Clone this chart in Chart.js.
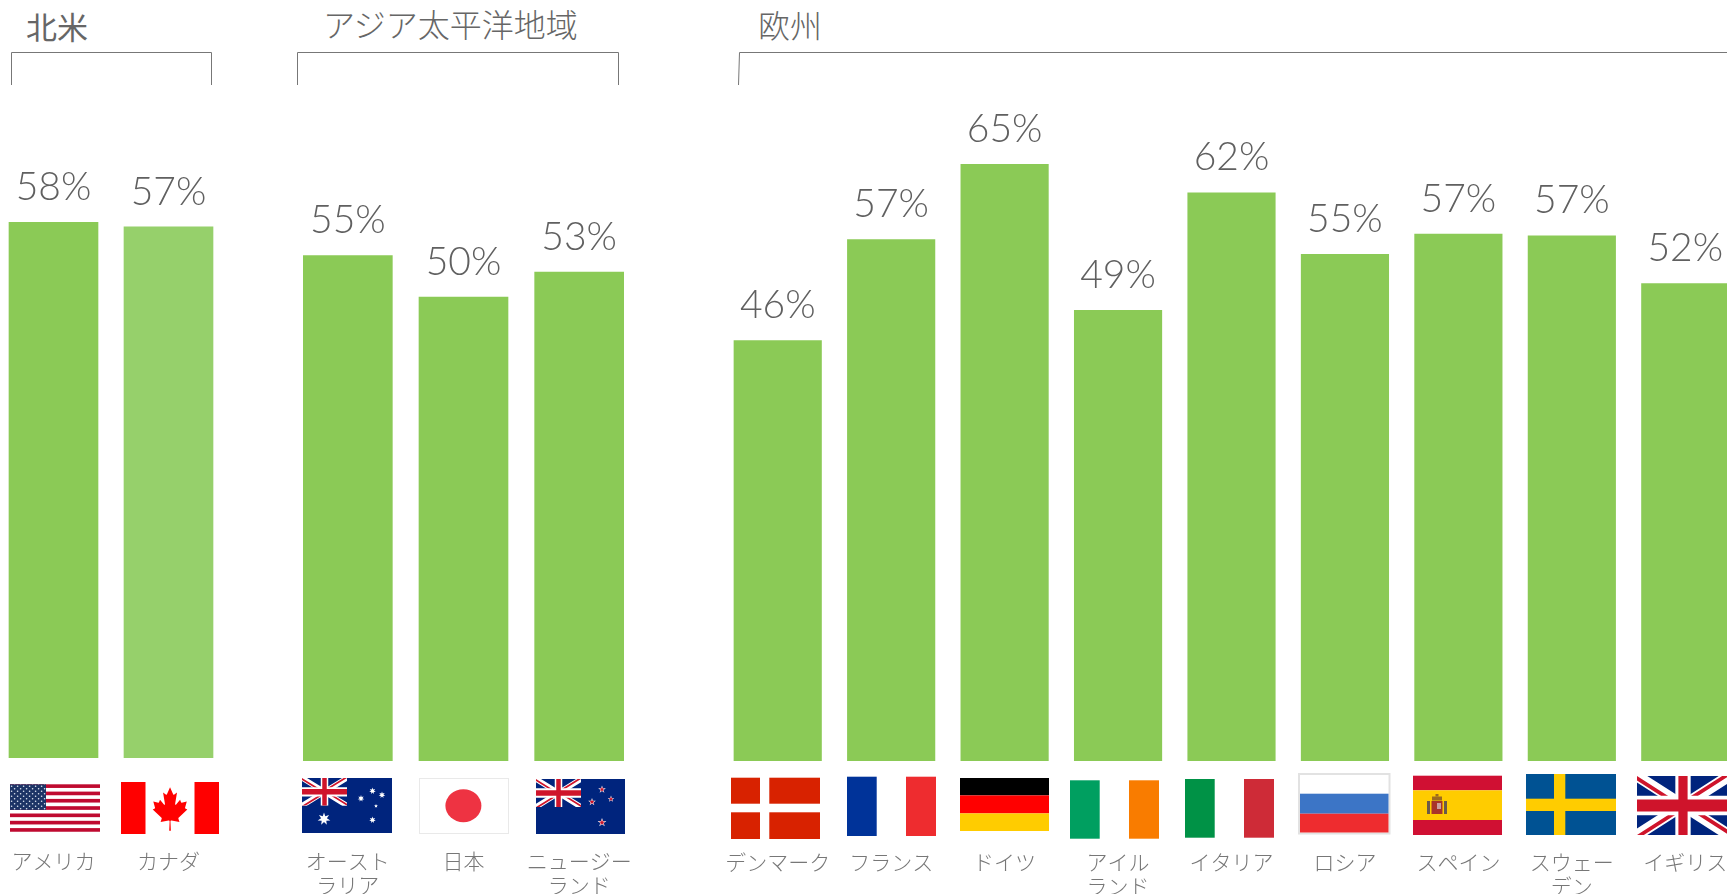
<!DOCTYPE html>
<html lang="ja">
<head>
<meta charset="utf-8">
<title>地域別</title>
<script src="https://cdn.jsdelivr.net/npm/chart.js@4"></script>
<style>
  html, body { margin: 0; padding: 0; background: #fff; overflow: hidden; }
  #page { position: relative; width: 1727px; height: 894px; overflow: hidden; }
  #page canvas { position: absolute; top: 0; }
  #overlay { position: absolute; left: 0; top: 0; }
  #overlay text { font-family: "Noto Sans CJK JP", sans-serif; font-weight: 300; font-size: 30px; fill: #666; }
</style>
</head>
<body>
<div id="page">
  <svg id="overlay" width="1727" height="894" xmlns="http://www.w3.org/2000/svg"></svg>
  <canvas id="northAmerica" style="left:-4px" width="230" height="894"></canvas>
  <canvas id="asiaPacific" style="left:290px" width="347" height="894"></canvas>
  <canvas id="europe" style="left:721px" width="1021" height="894"></canvas>
</div>

<script>
var northAmericaLabels = ['アメリカ', 'カナダ'];
var northAmericaValues = [57.6, 57.1];

var asiaLabels = [['オースト', 'ラリア'], '日本', ['ニュージー', 'ランド']];
var asiaValues = [54.8, 50.3, 53.0];

var europeLabels = ['デンマーク', 'フランス', 'ドイツ', ['アイル', 'ランド'], 'イタリア', 'ロシア', 'スペイン', ['スウェー', 'デン'], 'イギリス'];
var europeValues = [45.8, 56.8, 65.0, 49.1, 61.9, 55.2, 57.4, 57.2, 52.0];

var groupTitles = ['北米', 'アジア太平洋地域', '欧州'];

var GREEN = '#8bca56';
var LIGHT_GREEN = '#96d06b';

// percent text above each bar
var barLabels = {
  id: 'barLabels',
  afterDatasetsDraw: function(chart) {
    var ctx = chart.ctx;
    var values = chart.data.datasets[0].data;
    ctx.save();
    ctx.font = '300 39px Lato';
    ctx.fillStyle = '#606060';
    ctx.textAlign = 'center';
    ctx.textBaseline = 'middle';
    chart.getDatasetMeta(0).data.forEach(function(bar, i) {
      ctx.fillText(Math.round(values[i]) + '%', bar.x, bar.y - 35);
    });
    ctx.restore();
  }
};

function makeChart(id, labels, values, colors, opts) {
  return new Chart(document.getElementById(id), {
    type: 'bar',
    plugins: [barLabels],
    data: {
      labels: labels,
      datasets: [{ data: values, backgroundColor: colors, barThickness: opts.barWidth }]
    },
    options: {
      responsive: false,
      animation: false,
      events: [],
      plugins: { legend: { display: false }, tooltip: { enabled: false } },
      scales: {
        x: {
          grid: { display: false },
          border: { display: false },
          // labels sit under the flags, so the big tick padding must not shrink the bar area
          afterFit: function(scale) {
            scale.height = opts.axisHeight;
            scale.paddingLeft = 0;
            scale.paddingRight = 0;
          },
          ticks: {
            autoSkip: false,
            maxRotation: 0,
            padding: opts.labelGap,
            color: '#777',
            font: { family: '"Noto Sans CJK JP", sans-serif', size: 21, weight: '300', lineHeight: 1.15 }
          }
        },
        y: { display: false, min: 0, max: opts.yMax }
      }
    }
  });
}

makeChart('northAmerica', northAmericaLabels, northAmericaValues, [GREEN, LIGHT_GREEN],
  { barWidth: 89, axisHeight: 136, labelGap: 83, yMax: 81.5 });
makeChart('asiaPacific', asiaLabels, asiaValues, GREEN,
  { barWidth: 89, axisHeight: 133, labelGap: 80, yMax: 82.5 });
makeChart('europe', europeLabels, europeValues, GREEN,
  { barWidth: 87.5, axisHeight: 133, labelGap: 81, yMax: 82.9 });

// ---- brackets, group titles and flags (plain svg under the charts) ----
function rect(x, y, w, h, fill) {
  return '<rect x="' + x + '" y="' + y + '" width="' + w + '" height="' + h + '" fill="' + fill + '"/>';
}

function star(cx, cy, r, n, inner, fill) {
  var pts = [];
  for (var i = 0; i < n * 2; i++) {
    var a = -Math.PI / 2 + i * Math.PI / n;
    var rad = i % 2 ? r * inner : r;
    pts.push((cx + rad * Math.cos(a)).toFixed(2) + ',' + (cy + rad * Math.sin(a)).toFixed(2));
  }
  return '<polygon points="' + pts.join(' ') + '" fill="' + fill + '"/>';
}

function unionJack(x, y, w, h) {
  return '<svg x="' + x + '" y="' + y + '" width="' + w + '" height="' + h + '" viewBox="0 0 60 30" preserveAspectRatio="none">' +
    '<rect width="60" height="30" fill="#00247d"/>' +
    '<path d="M0,0L60,30M60,0L0,30" stroke="#fff" stroke-width="6"/>' +
    '<path d="M0,0L60,30M60,0L0,30" stroke="#cf142b" stroke-width="4" clip-path="url(#jackClip)"/>' +
    '<path d="M30,0v30M0,15h60" stroke="#fff" stroke-width="10"/>' +
    '<path d="M30,0v30M0,15h60" stroke="#cf142b" stroke-width="6"/>' +
    '</svg>';
}

var MAPLE = 'M4890 4430l-45-863a95 95 0 0 1 111-98l859 151-116-320a65 65 0 0 1 20-73l941-762-212-99a65 65 0 0 1-34-79l186-572-542 115a65 65 0 0 1-73-38l-105-247-423 454a65 65 0 0 1-111-57l204-1052-327 189a65 65 0 0 1-91-27l-332-652-332 652a65 65 0 0 1-91 27l-327-189 204 1052a65 65 0 0 1-111 57l-423-454-105 247a65 65 0 0 1-73 38l-542-115 186 572a65 65 0 0 1-34 79l-212 99 941 762a65 65 0 0 1 20 73l-116 320 859-151a95 95 0 0 1 111 98l-45 863z';

var svg = '<defs><clipPath id="jackClip"><path d="M30,15h30v15zv15h-30zh-30v-15zv-15h30z"/></clipPath>' +
  '<pattern id="usStars" x="10" y="785" width="6" height="5" patternUnits="userSpaceOnUse">' +
  '<circle cx="1.6" cy="1.3" r=".8" fill="#dfe6f2"/><circle cx="4.6" cy="3.8" r=".8" fill="#dfe6f2"/></pattern></defs>';

// brackets
svg += '<path d="M11.5 85V52.5H211.5V85" fill="none" stroke="#777"/>';
svg += '<path d="M297.5 85V52.5H618.5V85" fill="none" stroke="#777"/>';
svg += '<path d="M738.5 85L739.5 52.5H1727" fill="none" stroke="#777"/>';

// group titles
svg += '<text x="26" y="39" style="font-weight:400;font-size:31px">' + groupTitles[0] + '</text>';
svg += '<text x="323" y="37" style="font-size:32px">' + groupTitles[1] + '</text>';
svg += '<text x="758" y="38" style="font-size:32px">' + groupTitles[2] + '</text>';

// usa
svg += rect(10, 784.3, 90, 47.4, '#fff');
for (var i = 0; i < 7; i++) svg += rect(10, 784.3 + i * 7.3, 90, 3.65, '#bf0a30');
svg += rect(10, 784.3, 36, 25.6, '#1d3466') + rect(10, 784.3, 36, 25.6, 'url(#usStars)');

// canada
svg += rect(121, 782, 24.5, 52, '#f00') + rect(194.5, 782, 24.5, 52, '#f00');
svg += '<path d="' + MAPLE + '" fill="#f00" transform="translate(125.4 783) scale(.0093 .0108)"/>';

// australia
svg += rect(302, 778, 90, 55, '#00247d') + unionJack(302, 778, 45, 27.7);
svg += star(324, 819, 6.5, 7, .45, '#fff') + star(372.5, 791, 3.4, 7, .45, '#fff') + star(382, 795, 3.4, 7, .45, '#fff');
svg += star(361, 798.5, 3.4, 7, .45, '#fff') + star(376, 806, 2, 5, .45, '#fff') + star(372.5, 820, 3.4, 7, .45, '#fff');

// japan
svg += '<rect x="419.5" y="778.5" width="89" height="55" fill="#fff" stroke="#e9e9e9"/>';
svg += '<ellipse cx="463.4" cy="805.7" rx="18" ry="16.5" fill="#ee3342"/>';

// new zealand
svg += rect(536, 779, 89, 55, '#00247d') + unionJack(536, 779, 45, 28);
[[602, 789.5, 4], [592, 802, 4], [611, 799, 3.4], [602, 822.5, 4.6]].forEach(function(s) {
  svg += star(s[0], s[1], s[2], 5, .4, '#fff') + star(s[0], s[1], s[2] * .7, 5, .4, '#cc142b');
});

// denmark
svg += rect(731, 777.7, 29, 26, '#d82200') + rect(769.3, 777.7, 50.7, 26, '#d82200');
svg += rect(731, 812.3, 29, 26.7, '#d82200') + rect(769.3, 812.3, 50.7, 26.7, '#d82200');

// france
svg += rect(847, 776.7, 29.7, 59.3, '#003399') + rect(906, 776.7, 30, 59.3, '#ee2c2f');

// germany
svg += rect(960, 778, 89, 17.4, '#000') + rect(960, 795.4, 89, 18, '#f00') + rect(960, 813.4, 89, 17.6, '#fc0');

// ireland
svg += rect(1070, 780.3, 29.7, 58.4, '#009f60') + rect(1129, 780.3, 30, 58.4, '#f97c00');

// italy
svg += rect(1185, 779, 29.7, 58.7, '#009246') + rect(1244, 779, 30, 58.7, '#ce2b37');

// russia
svg += '<rect x="1299" y="774" width="90.5" height="59.5" fill="#fff" stroke="#e2e2e2" stroke-width="2"/>';
svg += rect(1300, 793.7, 88.5, 20, '#3c75c6') + rect(1300, 813.7, 88.5, 18.8, '#ee2c2f');

// spain
svg += rect(1413, 775.7, 89, 14.6, '#d01033') + rect(1413, 790.3, 89, 29.7, '#fc0') + rect(1413, 820, 89, 15, '#d01033');
svg += rect(1427, 801, 3, 13, '#6b5a4a') + rect(1444, 801, 3, 13, '#6b5a4a');
svg += rect(1431.5, 801, 11, 13, '#a8342a') + rect(1437, 803, 4, 6, '#c9a0a0');
svg += rect(1432, 796.5, 10, 4, '#9c6a1f') + rect(1435.5, 794, 3, 2.5, '#9c6a1f');

// sweden
svg += rect(1526, 774, 90, 61, '#005293') + rect(1554, 774, 11.3, 61, '#fc0') + rect(1526, 798.7, 90, 12.3, '#fc0');

// uk
svg += unionJack(1637, 776, 92, 59);

document.getElementById('overlay').innerHTML = svg;
</script>
</body>
</html>
